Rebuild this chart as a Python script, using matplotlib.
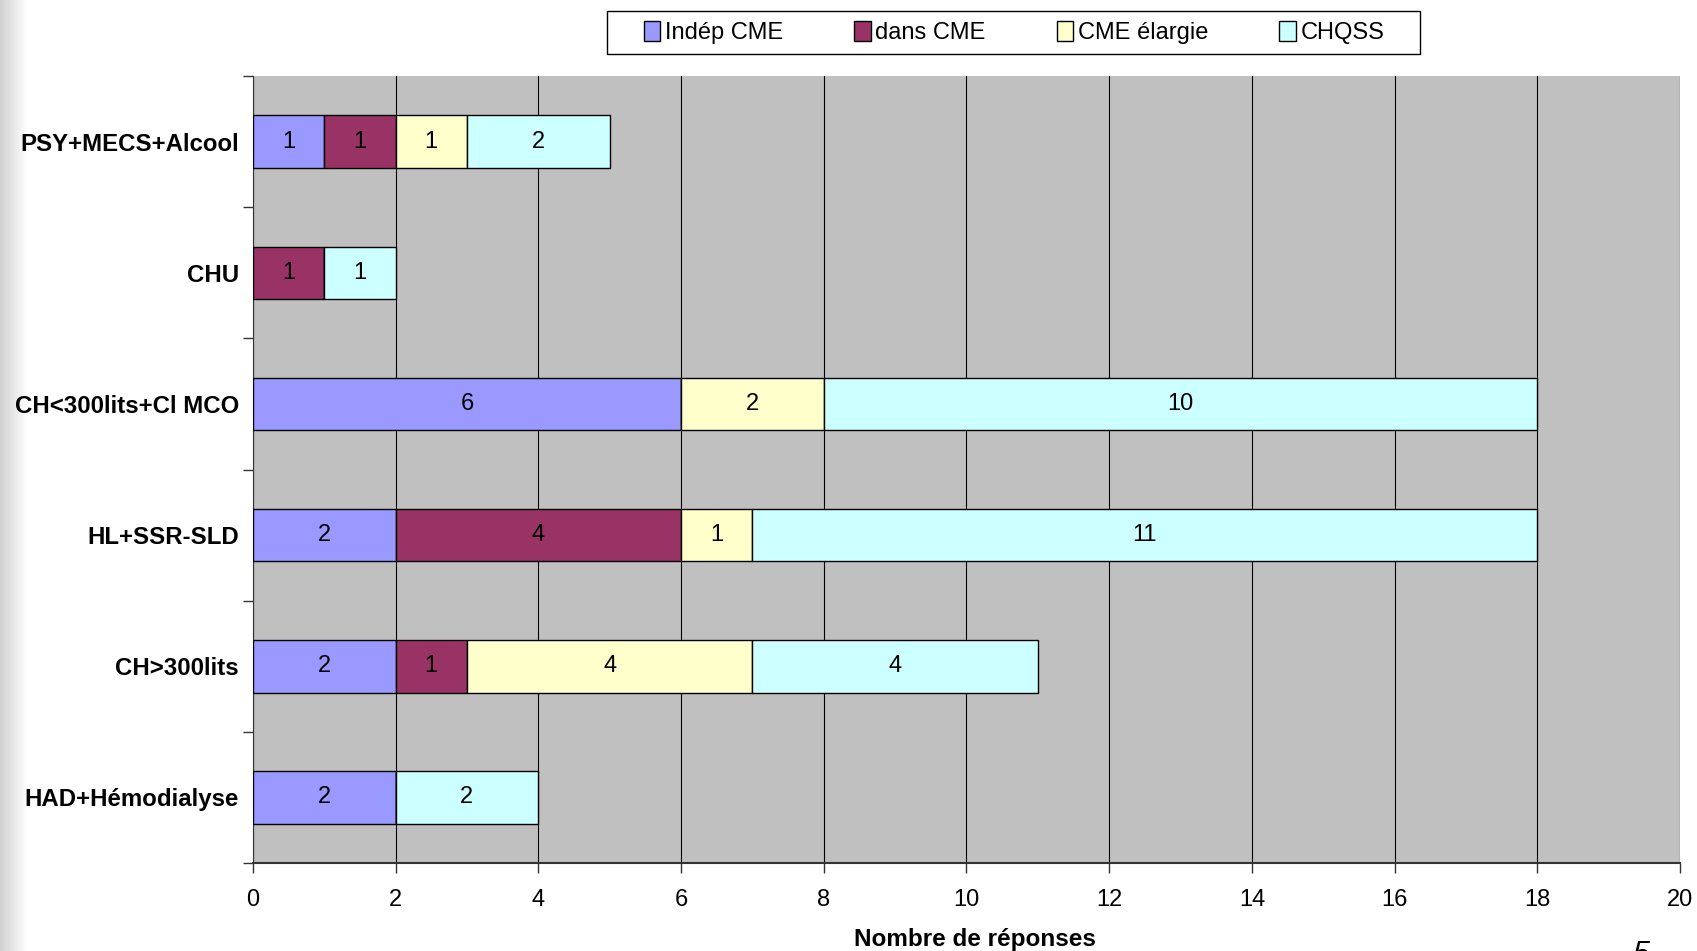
import numpy as np
import matplotlib.pyplot as plt
from matplotlib.patches import Rectangle

plt.rcParams['font.family'] = ['Liberation Sans', 'DejaVu Sans']

categories = ['PSY+MECS+Alcool', 'CHU', 'CH<300lits+Cl MCO', 'HL+SSR-SLD',
              'CH>300lits', 'HAD+Hémodialyse']
series_names = ['Indép CME', 'dans CME', 'CME élargie', 'CHQSS']
indep = [1, 0, 6, 2, 2, 2]
dans = [1, 1, 0, 4, 1, 0]
elargie = [1, 0, 2, 1, 4, 0]
chqss = [2, 1, 10, 11, 4, 2]
colors = ['#9999FF', '#993366', '#FFFFCC', '#CCFFFF']

fig = plt.figure(figsize=(16.97, 9.51), dpi=100)

# grey shadow on the left edge of the slide
shade = fig.add_axes([0, 0, 0.016, 1])
grad = np.linspace(0.82, 1.0, 50).reshape(1, -1)
shade.imshow(grad, aspect='auto', cmap='gray', vmin=0, vmax=1, extent=[0, 1, 0, 1])
shade.axis('off')

ax = fig.add_axes([0.149, 0.0925, 0.841, 0.8275])
ax.set_facecolor('#C0C0C0')

y = np.arange(len(categories))
left = np.zeros(len(categories))
for name, vals, col in zip(series_names, [indep, dans, elargie, chqss], colors):
    vals = np.array(vals)
    ax.barh(y, vals, left=left, height=0.4, color=col, edgecolor='black',
            linewidth=1, label=name, zorder=3)
    for yi, l, v in zip(y, left, vals):
        if v > 0:
            ax.text(l + v / 2, yi, str(v), ha='center', va='center',
                    fontsize=17, zorder=4)
    left += vals

ax.set_xlim(0, 20)
ax.set_ylim(len(categories) - 0.5, -0.5)
ax.set_xticks(range(0, 21, 2))
ax.xaxis.grid(True, color='black', linewidth=0.8, zorder=1)
ax.set_axisbelow(True)

ax.set_yticks(y)
ax.set_yticklabels(categories, fontsize=17.3, fontweight='bold')
ax.set_yticks(np.arange(-0.5, len(categories), 1), minor=True)
ax.tick_params(axis='y', which='major', length=0, pad=10)
ax.tick_params(axis='y', which='minor', length=7, width=1, color='#333333')
ax.tick_params(axis='x', length=7, width=1, labelsize=17, pad=12, color='#333333')

for side in ['top', 'right']:
    ax.spines[side].set_visible(False)
ax.spines['left'].set_color('#333333')
ax.spines['bottom'].set_color('#333333')
ax.spines['bottom'].set_linewidth(1.5)

ax.set_xlabel('Nombre de réponses', fontsize=17.5, fontweight='bold')
ax.xaxis.set_label_coords(0.506, -0.083)

# legend box drawn separately so its padding matches the slide
fig.patches.append(Rectangle((0.3577, 0.9432), 0.4791, 0.0452, transform=fig.transFigure,
                             facecolor='white', edgecolor='black', linewidth=1))
leg = fig.legend(loc='center', bbox_to_anchor=(0.5975, 0.9658), ncol=4,
                 fontsize=17, frameon=False,
                 handlelength=0.7, handleheight=0.9, handletextpad=0.2,
                 columnspacing=3.0, borderpad=0.3, borderaxespad=0)

fig.text(0.967, -0.02, '5', fontsize=22, style='italic', ha='center', va='bottom')

fig.savefig('out.png', dpi=100)
